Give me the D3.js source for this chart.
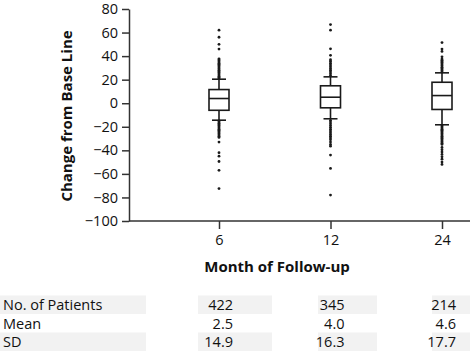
<!DOCTYPE html>
<html>
<head>
<meta charset="utf-8">
<script src="https://cdn.jsdelivr.net/npm/d3@7"></script>
<style>
  body { margin: 0; background: #fff; }
  svg { display: block; font-family: "Open Sans", sans-serif; }
</style>
</head>
<body>
<div id="chart"></div>
<script>
// -------- Data --------
const months      = ['6', '12', '24'];
const q1          = [-6.0, -3.9, -5.3];
const medians     = [4.0, 5.1, 6.5];
const q3          = [11.6, 14.8, 17.8];
const whiskerLow  = [-14.4, -13.2, -18.3];
const whiskerHigh = [20.4, 22.4, 25.8];

// outliers, one list per month
const outliers6 = [
  21, 22, 23, 24, 25, 26, 27, 28, 29, 30, 31, 32, 33, 34, 35, 36, 37, 37.7,
  46, 50, 56, 62,
  -15, -16, -17, -18, -19, -20, -21, -22, -23, -24, -25, -26, -27, -28, -29,
  -33, -42, -45, -49.5, -57, -72.5
];
const outliers12 = [
  23.5, 25, 26.5, 28, 29.5, 31, 32.5, 34, 35.7, 37, 40.7, 46.2, 62, 66.8,
  -14.5, -16, -17.5, -19, -20.5, -22, -23.5, -25, -26.5, -28, -29.5, -31, -33, -35, -36.5,
  -44, -55.4, -78
];
const outliers24 = [
  26.5, 27.5, 28.5, 29.5, 30.5, 31.5, 32.5, 33.5, 34.5, 35.5, 36.5, 37.5, 39.4,
  44, 46, 51.5,
  -19, -20, -21, -22, -23, -24, -25, -26, -27, -28, -29, -30, -31, -32, -33, -34, -35,
  -37.5, -39.5, -41.5, -43.5, -45.5, -47.5, -50, -52
];
const outliers = [outliers6, outliers12, outliers24];

const yTicks = [80, 60, 40, 20, 0, -20, -40, -60, -80, -100];

const rowLabels = ['No. of Patients', 'Mean', 'SD'];
const patients  = ['422', '345', '214'];
const means     = ['2.5', '4.0', '4.6'];
const sds       = ['14.9', '16.3', '17.7'];

// -------- Layout --------
const W = 470, H = 354;
const axisX = 129, plotTop = 9, plotBottom = 221;

const svg = d3.select('#chart').append('svg')
  .attr('width', W).attr('height', H);

const y = d3.scaleLinear().domain([-100, 80]).range([plotBottom, plotTop]);
const x = d3.scalePoint().domain(months).range([219, 442]);

const boxes = months.map((m, i) => ({
  m, q1: q1[i], med: medians[i], q3: q3[i], lo: whiskerLow[i], hi: whiskerHigh[i], out: outliers[i]
}));

const ink = '#1a1a1a';
const boxW = 20, capW = 14;

// -------- Boxes --------
const g = svg.selectAll('g.box').data(boxes).join('g')
  .attr('class', 'box')
  .attr('transform', d => `translate(${x(d.m)},0)`);

// outliers behind everything
g.selectAll('circle').data(d => d.out).join('circle')
  .attr('cx', 0).attr('cy', v => y(v)).attr('r', 1.4).attr('fill', ink);

g.append('line').attr('y1', d => y(d.hi)).attr('y2', d => y(d.q3))
  .attr('stroke', ink).attr('stroke-width', 1.6);
g.append('line').attr('y1', d => y(d.lo)).attr('y2', d => y(d.q1))
  .attr('stroke', ink).attr('stroke-width', 1.6);
g.append('line').attr('x1', -capW / 2).attr('x2', capW / 2)
  .attr('y1', d => y(d.hi)).attr('y2', d => y(d.hi))
  .attr('stroke', ink).attr('stroke-width', 1.6);
g.append('line').attr('x1', -capW / 2).attr('x2', capW / 2)
  .attr('y1', d => y(d.lo)).attr('y2', d => y(d.lo))
  .attr('stroke', ink).attr('stroke-width', 1.6);
g.append('rect')
  .attr('x', -boxW / 2).attr('width', boxW)
  .attr('y', d => y(d.q3)).attr('height', d => y(d.q1) - y(d.q3))
  .attr('fill', '#fff').attr('stroke', ink).attr('stroke-width', 1.6);
g.append('line').attr('x1', -boxW / 2).attr('x2', boxW / 2)
  .attr('y1', d => y(d.med)).attr('y2', d => y(d.med))
  .attr('stroke', ink).attr('stroke-width', 1.6);

// -------- Axes --------
const yAxis = svg.append('g')
  .attr('transform', `translate(${axisX},0)`)
  .call(d3.axisLeft(y).tickValues(yTicks).tickSize(7).tickPadding(4)
    .tickFormat(d => d < 0 ? '\u2212' + Math.abs(d) : d).tickSizeOuter(0));

const xAxis = svg.append('g')
  .attr('transform', `translate(0,${plotBottom})`)
  .call(d3.axisBottom(x).tickSize(8).tickPadding(6).tickSizeOuter(0));
xAxis.select('.domain').attr('d', `M${axisX},0H${W}`);

[yAxis, xAxis].forEach(a => {
  a.selectAll('.domain, line').attr('stroke', '#333').attr('stroke-width', 1.5);
  a.selectAll('text').attr('fill', '#111').style('font-size', '14.5px')
    .style('font-family', '"Open Sans", sans-serif');
});

// titles
svg.append('text')
  .attr('transform', `translate(72,116) rotate(-90)`)
  .attr('text-anchor', 'middle')
  .style('font-size', '15px').style('font-weight', 'bold').attr('fill', '#111')
  .text('Change from Base Line');

svg.append('text')
  .attr('x', 277).attr('y', 272)
  .attr('text-anchor', 'middle')
  .style('font-size', '15px').style('font-weight', 'bold').attr('fill', '#111')
  .text('Month of Follow-up');

// -------- Table --------
const rowTop = 295.5, rowH = 18.5;
const cellSpans = [[198, 272], [318, 377], [432, 470]];
const rows = [patients, means, sds];

rows.forEach((vals, r) => {
  const ry = rowTop + r * rowH;
  if (r !== 1) {
    svg.append('rect').attr('x', 0).attr('y', ry).attr('width', 146).attr('height', rowH)
      .attr('fill', '#f2f2f2');
    cellSpans.forEach(([a, b]) => {
      svg.append('rect').attr('x', a).attr('y', ry).attr('width', b - a).attr('height', rowH)
        .attr('fill', '#f2f2f2');
    });
  }
  svg.append('text').attr('x', 3).attr('y', ry + 14.5)
    .style('font-size', '14.5px').attr('fill', '#111').text(rowLabels[r]);
  svg.selectAll(null).data(vals).join('text')
    .attr('x', (v, i) => x(months[i]) + 14)
    .attr('y', ry + 14.5)
    .attr('text-anchor', 'end')
    .style('font-size', '14.5px').attr('fill', '#111')
    .text(v => v);
});
</script>
</body>
</html>
